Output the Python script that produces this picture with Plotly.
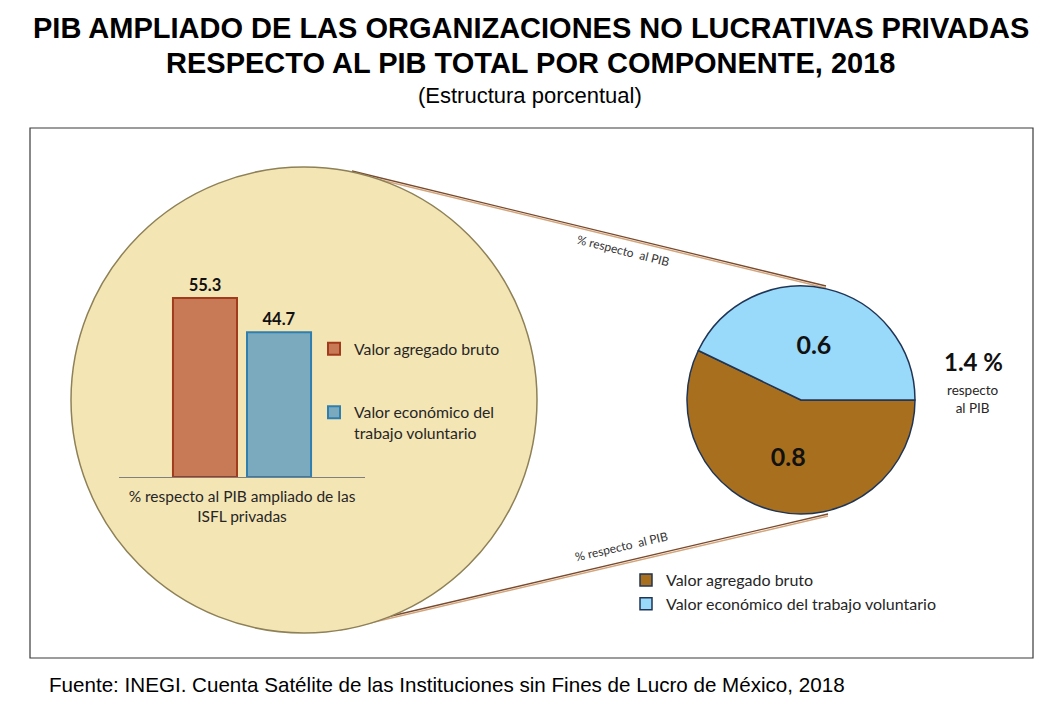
import plotly.graph_objects as go

W, H = 1064, 708

# ---------------- data ----------------
bar_category = ["% respecto al PIB ampliado de las<br>ISFL privadas"]
bar_series = ["Valor agregado bruto", "Valor económico del<br>trabajo voluntario"]
bar_values = [55.3, 44.7]

pie_labels = ["Valor agregado bruto", "Valor económico del trabajo voluntario"]
pie_values = [0.8, 0.6]
pie_total_label = "1.4 %"

# ---------------- styles ----------------
bar_fill = ["#C87956", "#7BAABE"]
bar_line = ["#A23B1C", "#2F7EB0"]
pie_fill = ["#A8701E", "#99D9F9"]
CAL = "Lato, 'Open Sans', sans-serif"
ARIAL = "'Liberation Sans', Arial, sans-serif"
TXT = "#262626"


def px(x):
    return x / W


def py(y):
    return 1 - y / H


fig = go.Figure()

for i, (name, val) in enumerate(zip(bar_series, bar_values)):
    fig.add_trace(go.Bar(
        x=bar_category, y=[val], name=name,
        marker=dict(color=bar_fill[i], line=dict(color=bar_line[i], width=2)),
        texttemplate="%{y:.1f}", textposition="outside",
        textfont=dict(family=CAL, size=16.5, color="#111111", weight="bold"),
        cliponaxis=False, legend="legend", legendgroup=f"g{i}",
        hoverinfo="skip",
    ))

fig.add_trace(go.Pie(
    labels=pie_labels, values=pie_values, sort=False,
    direction="counterclockwise", rotation=90,
    marker=dict(colors=pie_fill, line=dict(color="#1F3556", width=1.5)),
    texttemplate="%{value:.1f}", textposition="inside",
    insidetextorientation="horizontal",
    textfont=dict(family=CAL, size=25, color="#111111", weight="bold"),
    domain=dict(x=[px(687), px(915)], y=[py(514), py(286)]),
    legend="legend2", hoverinfo="skip",
))

fig.update_layout(
    width=W, height=H,
    margin=dict(l=0, r=0, t=0, b=0),
    paper_bgcolor="white", plot_bgcolor="rgba(0,0,0,0)",
    barmode="group", bargap=0.398, bargroupgap=0.135,
    showlegend=True,
    xaxis=dict(domain=[px(119), px(365)], showline=True, linecolor="#7F7F7F",
               linewidth=1, showgrid=False, zeroline=False, ticks="",
               ticklabelstandoff=5,
               tickfont=dict(family=CAL, size=15.5, color=TXT),
               fixedrange=True),
    yaxis=dict(domain=[py(477), py(282.8)], range=[0, 60], visible=False,
               fixedrange=True),
    legend=dict(x=px(314), y=py(332), xanchor="left", yanchor="top",
                bgcolor="rgba(0,0,0,0)", traceorder="grouped",
                tracegroupgap=40, valign="top",
                font=dict(family=CAL, size=15.8, color=TXT)),
    legend2=dict(x=px(626), y=py(563), xanchor="left", yanchor="top",
                 bgcolor="rgba(0,0,0,0)",
                 font=dict(family=CAL, size=16, color=TXT)),
)

shapes = []
# frame
shapes.append(dict(type="rect", xref="paper", yref="paper",
                   x0=px(30), x1=px(1033), y0=py(658), y1=py(128),
                   line=dict(color="#3A3A3A", width=1.2), layer="below"))
# connector lines (behind circle)
for (x0, y0, x1, y1) in [(352, 171, 826, 286), (340, 628, 828, 514)]:
    shapes.append(dict(type="line", xref="paper", yref="paper",
                       x0=px(x0), y0=py(y0 + 2), x1=px(x1), y1=py(y1 + 2),
                       line=dict(color="#D2A57C", width=1.5), layer="below"))
    shapes.append(dict(type="line", xref="paper", yref="paper",
                       x0=px(x0), y0=py(y0), x1=px(x1), y1=py(y1),
                       line=dict(color="#7A4A2C", width=1.3), layer="below"))
# big circle
shapes.append(dict(type="circle", xref="paper", yref="paper",
                   x0=px(71), x1=px(537), y0=py(633), y1=py(167),
                   fillcolor="#F4E5B5", line=dict(color="#8E8157", width=1.5),
                   layer="below"))
fig.update_layout(shapes=shapes)

ann = []
ann.append(dict(text="<b>PIB AMPLIADO DE LAS ORGANIZACIONES NO LUCRATIVAS PRIVADAS</b>",
                x=px(531), y=py(28), font=dict(family=ARIAL, size=29, color="black")))
ann.append(dict(text="<b>RESPECTO AL PIB TOTAL POR COMPONENTE, 2018</b>",
                x=px(530), y=py(63), font=dict(family=ARIAL, size=29, color="black")))
ann.append(dict(text="(Estructura porcentual)",
                x=px(530), y=py(95), font=dict(family=ARIAL, size=22, color="black")))
ann.append(dict(text="Fuente: INEGI. Cuenta Satélite de las Instituciones sin Fines de Lucro de México, 2018",
                x=px(47), y=py(684), xanchor="left",
                font=dict(family=ARIAL, size=20.6, color="black")))
ann.append(dict(text="<b>" + pie_total_label + "</b>", x=px(973), y=py(361),
                font=dict(family=CAL, size=24, color="#111111")))
ann.append(dict(text="respecto<br>al PIB", x=px(973), y=py(399),
                font=dict(family=CAL, size=13.5, color=TXT)))
ann.append(dict(text="% respecto  al PIB", x=px(623), y=py(250), textangle=14,
                font=dict(family=CAL, size=12, color="#333333")))
ann.append(dict(text="% respecto  al PIB", x=px(621), y=py(546), textangle=-13,
                font=dict(family=CAL, size=12, color="#333333")))
for a in ann:
    a.update(xref="paper", yref="paper", showarrow=False,
             xanchor=a.get("xanchor", "center"), yanchor="middle")
fig.update_layout(annotations=ann)

fig.write_html("out.html")
